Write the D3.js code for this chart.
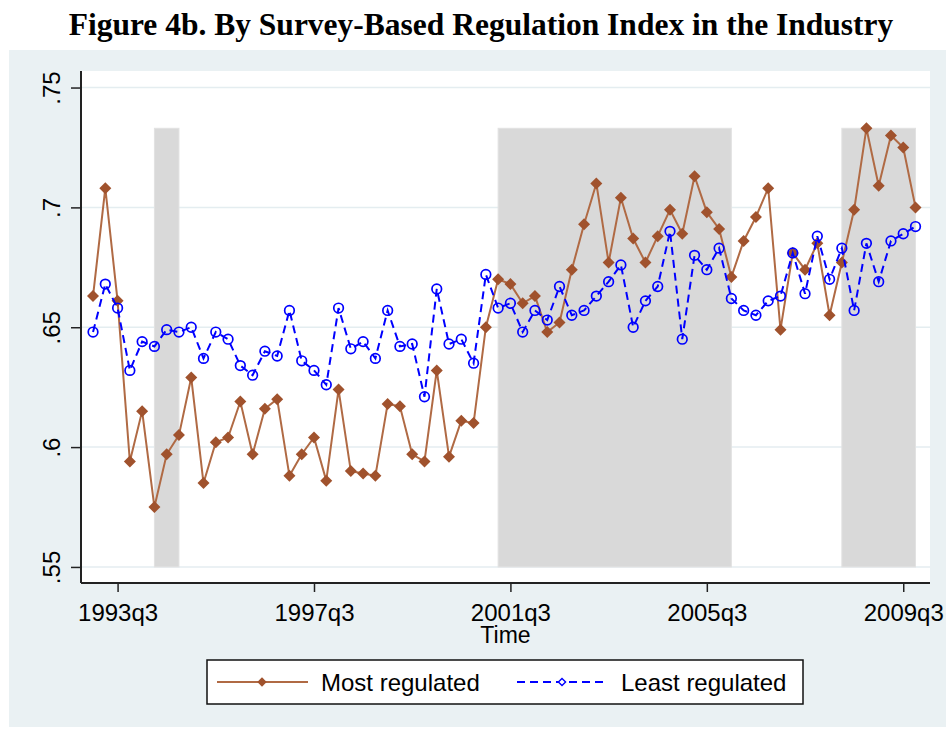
<!DOCTYPE html>
<html>
<head>
<meta charset="utf-8">
<script src="https://cdn.jsdelivr.net/npm/d3@7"></script>
<style>
  body { margin: 0; background: #fff; }
  svg { display: block; }
</style>
</head>
<body>
<script>
// quarters run from 1993q1 to 2009q4, one value per quarter
const startQuarter = '1993q1';

const mostRegulated = [
  .663, .708, .661, .594, .615, .575, .597, .605, .629, .585,
  .602, .604, .619, .597, .616, .620, .588, .597, .604, .586,
  .624, .590, .589, .588, .618, .617, .597, .594, .632, .596,
  .611, .610, .650, .670, .668, .660, .663, .648, .652, .674,
  .693, .710, .677, .704, .687, .677, .688, .699, .689, .713,
  .698, .691, .671, .686, .696, .708, .649, .681, .674, .685,
  .655, .677, .699, .733, .709, .730, .725, .700
];
const leastRegulated = [
  .648, .668, .658, .632, .644, .642, .649, .648, .650, .637,
  .648, .645, .634, .630, .640, .638, .657, .636, .632, .626,
  .658, .641, .644, .637, .657, .642, .643, .621, .666, .643,
  .645, .635, .672, .658, .660, .648, .657, .653, .667, .655,
  .657, .663, .669, .676, .650, .661, .667, .690, .645, .680,
  .674, .683, .662, .657, .655, .661, .663, .681, .664, .688,
  .670, .683, .657, .685, .669, .686, .689, .692
];

// shaded periods (start, end quarter) and their height
const shadedPeriods = [['1994q2', '1994q4'], ['2001q2', '2006q1'], ['2008q2', '2009q4']];
const shadeTop = .733;

const xTickLabels = ['1993q3', '1997q3', '2001q3', '2005q3', '2009q3'];
const yTickValues = [.55, .6, .65, .7, .75];

const seriesNames = ['Most regulated', 'Least regulated'];

// turn a 'YYYYqN' label into a quarter count from the start
function qIndex(label) {
    const p = s => +s.slice(0, 4) * 4 + (+s.slice(5) - 1);
    return p(label) - p(startQuarter);
}

const W = 946, H = 731;
const svg = d3.select('body').append('svg')
    .attr('width', W)
    .attr('height', H)
    .style('font-family', 'Arial, "Liberation Sans", sans-serif');

svg.append('rect').attr('width', W).attr('height', H).attr('fill', '#fff');

// title
svg.append('text')
    .text('Figure 4b. By Survey-Based Regulation Index in the Industry')
    .attr('x', 481)
    .attr('y', 35)
    .attr('text-anchor', 'middle')
    .style('font-family', '"Liberation Serif", "Times New Roman", serif')
    .style('font-weight', 'bold')
    .style('font-size', '31.5px');

// graph region
svg.append('rect')
    .attr('x', 9).attr('y', 50)
    .attr('width', W - 9).attr('height', 677)
    .attr('fill', '#eaf1f3');

const plot = {left: 81, right: 930, top: 71, bottom: 583};

svg.append('rect')
    .attr('x', plot.left).attr('y', plot.top)
    .attr('width', plot.right - plot.left).attr('height', plot.bottom - plot.top)
    .attr('fill', '#fff');

const x = d3.scaleLinear().domain([-0.98, 68.18]).range([plot.left, plot.right]);
const y = d3.scaleLinear().domain([.5433, .7569]).range([plot.bottom, plot.top]);

// gridlines
svg.append('g')
    .selectAll('line')
    .data(yTickValues)
    .join('line')
    .attr('x1', plot.left).attr('x2', plot.right)
    .attr('y1', d => y(d)).attr('y2', d => y(d))
    .attr('stroke', '#e4edf0')
    .attr('stroke-width', 1.5);

// shaded periods
svg.append('g')
    .selectAll('rect')
    .data(shadedPeriods)
    .join('rect')
    .attr('x', d => x(qIndex(d[0])))
    .attr('width', d => x(qIndex(d[1])) - x(qIndex(d[0])))
    .attr('y', y(shadeTop))
    .attr('height', y(.55) - y(shadeTop))
    .attr('fill', '#d9d9d9')
    .attr('stroke', '#e2e2e2')
    .attr('stroke-width', 1);

const brown = '#a0522d', blue = '#0000ff';
const diamond = d3.symbol(d3.symbolSquare, 72);

const line = d3.line().x((d, i) => x(i)).y(d => y(d));

// most regulated
svg.append('path')
    .datum(mostRegulated)
    .attr('d', line)
    .attr('fill', 'none')
    .attr('stroke', '#b06a44')
    .attr('stroke-width', 2);
svg.append('g')
    .selectAll('path')
    .data(mostRegulated)
    .join('path')
    .attr('d', diamond)
    .attr('transform', (d, i) => 'translate(' + x(i) + ',' + y(d) + ') rotate(45)')
    .attr('fill', brown);

// least regulated
svg.append('path')
    .datum(leastRegulated)
    .attr('d', line)
    .attr('fill', 'none')
    .attr('stroke', blue)
    .attr('stroke-width', 2)
    .attr('stroke-dasharray', '8,5');
svg.append('g')
    .selectAll('circle')
    .data(leastRegulated)
    .join('circle')
    .attr('cx', (d, i) => x(i))
    .attr('cy', d => y(d))
    .attr('r', 4.8)
    .attr('fill', 'none')
    .attr('stroke', blue)
    .attr('stroke-width', 1.7);

// axes
const yAxis = d3.axisLeft(y)
    .tickValues(yTickValues)
    .tickSize(10)
    .tickFormat(d => d3.format('.2')(d).replace(/^0/, ''));
svg.append('g')
    .attr('transform', 'translate(' + plot.left + ',0)')
    .call(yAxis)
    .call(g => g.select('.domain').attr('d', 'M0,' + plot.top + 'V' + plot.bottom).attr('stroke', '#222').attr('stroke-width', 2))
    .call(g => g.selectAll('.tick line').attr('stroke', '#222').attr('stroke-width', 1.5))
    .call(g => g.selectAll('.tick text')
        .attr('x', null).attr('dy', null)
        .attr('transform', 'translate(-21,0) rotate(-90)')
        .attr('text-anchor', 'middle')
        .attr('fill', '#000')
        .style('font-size', '24px')
        .style('font-family', 'Arial, "Liberation Sans", sans-serif'));

const xAxis = d3.axisBottom(x)
    .tickValues(xTickLabels.map(qIndex))
    .tickSize(9)
    .tickFormat((d, i) => xTickLabels[i]);
svg.append('g')
    .attr('transform', 'translate(0,' + plot.bottom + ')')
    .call(xAxis)
    .call(g => g.select('.domain').attr('d', 'M' + plot.left + ',0H' + plot.right).attr('stroke', '#222').attr('stroke-width', 2))
    .call(g => g.selectAll('.tick line').attr('stroke', '#222').attr('stroke-width', 1.5))
    .call(g => g.selectAll('.tick text')
        .attr('y', 38).attr('dy', null)
        .attr('fill', '#000')
        .style('font-size', '24px')
        .style('font-family', 'Arial, "Liberation Sans", sans-serif'));

svg.append('text')
    .text('Time')
    .attr('x', (plot.left + plot.right) / 2)
    .attr('y', 643)
    .attr('text-anchor', 'middle')
    .style('font-size', '23px');

// legend
const legend = svg.append('g');
legend.append('rect')
    .attr('x', 207).attr('y', 660)
    .attr('width', 596).attr('height', 44)
    .attr('fill', '#fff')
    .attr('stroke', '#111')
    .attr('stroke-width', 1.5);

legend.append('line')
    .attr('x1', 217).attr('x2', 308).attr('y1', 682).attr('y2', 682)
    .attr('stroke', '#b06a44').attr('stroke-width', 2);
legend.append('path')
    .attr('d', d3.symbol(d3.symbolSquare, 44))
    .attr('transform', 'translate(262,682) rotate(45)')
    .attr('fill', brown);
legend.append('text')
    .text(seriesNames[0])
    .attr('x', 321).attr('y', 691)
    .style('font-size', '24px');

legend.append('line')
    .attr('x1', 517).attr('x2', 608).attr('y1', 682).attr('y2', 682)
    .attr('stroke', blue).attr('stroke-width', 2)
    .attr('stroke-dasharray', '8,5');
legend.append('path')
    .attr('d', d3.symbol(d3.symbolSquare, 26))
    .attr('transform', 'translate(562,682) rotate(45)')
    .attr('fill', '#fff')
    .attr('stroke', blue)
    .attr('stroke-width', 1.4);
legend.append('text')
    .text(seriesNames[1])
    .attr('x', 621).attr('y', 691)
    .style('font-size', '24px');
</script>
</body>
</html>
